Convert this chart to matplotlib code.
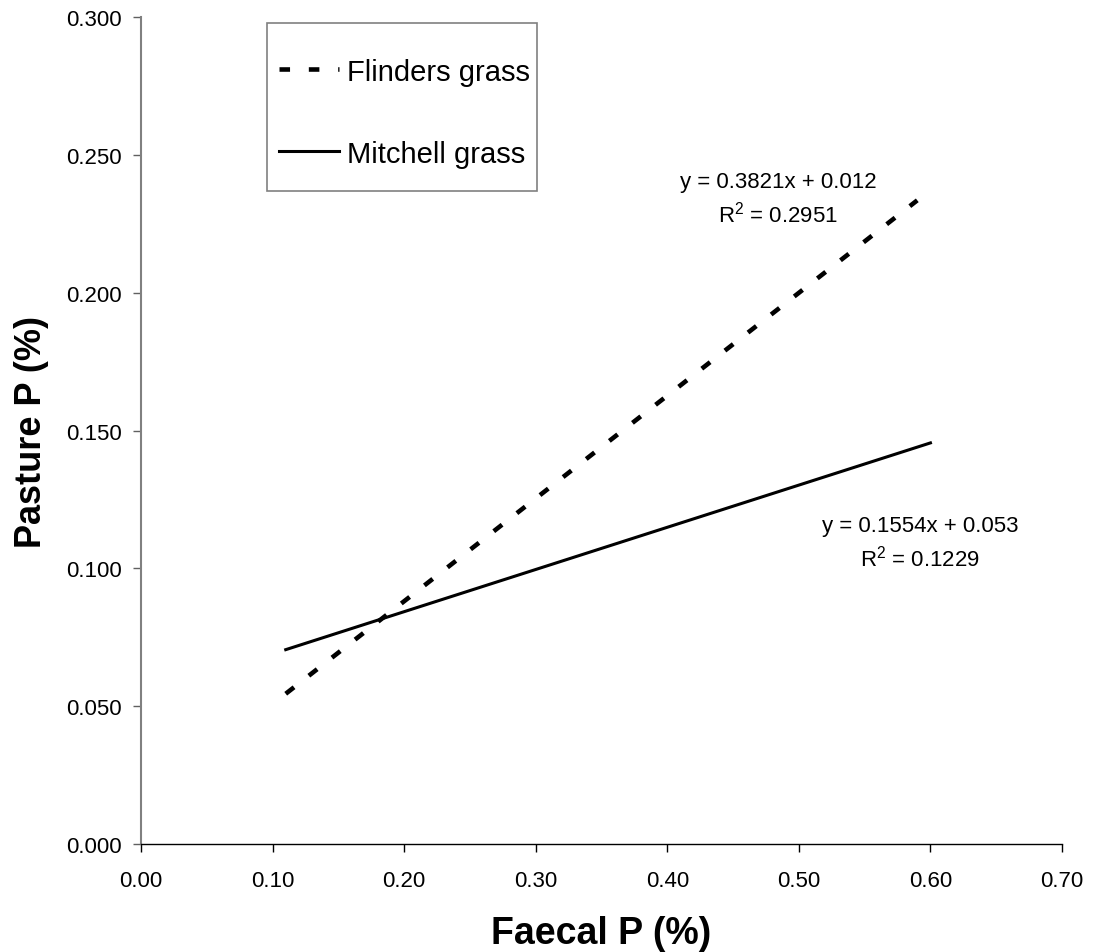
import numpy as np
import matplotlib
matplotlib.use("Agg")
import matplotlib.pyplot as plt
import matplotlib.patches as patches

plt.rcParams['font.family'] = ['Liberation Sans', 'DejaVu Sans']
plt.rcParams['mathtext.fontset'] = 'custom'
plt.rcParams['mathtext.rm'] = 'Liberation Sans'

# trend line end points
flinders_x = [0.11, 0.59]
flinders_y = [0.0545, 0.2335]
mitchell_x = [0.11, 0.60]
mitchell_y = [0.0705, 0.1455]

flinders_eq = 'y = 0.3821x + 0.012\nR$^2$ = 0.2951'
mitchell_eq = 'y = 0.1554x + 0.053\nR$^2$ = 0.1229'

xticks = [0.0, 0.1, 0.2, 0.3, 0.4, 0.5, 0.6, 0.7]
yticks = [0.0, 0.05, 0.1, 0.15, 0.2, 0.25, 0.3]

W, H = 1093, 953
fig = plt.figure(figsize=(W / 100, H / 100), dpi=100)
ax = fig.add_axes([141 / W, 1 - 845 / H, (1062 - 141) / W, (845 - 18) / H])

ax.plot(flinders_x, flinders_y, color='black', lw=3.3, dashes=(2.3, 4.1),
        label='Flinders grass')
ax.plot(mitchell_x, mitchell_y, color='black', lw=2.2, label='Mitchell grass')

ax.set_xlim(0, 0.7)
ax.set_ylim(0, 0.3)
ax.set_xticks(xticks)
ax.set_yticks(yticks)
ax.set_xticklabels(['%.2f' % v for v in xticks])
ax.set_yticklabels(['%.3f' % v for v in yticks])
ax.tick_params(direction='out', length=6, labelsize=16, width=1)
ax.tick_params(axis='x', pad=13, color='black')
ax.tick_params(axis='y', pad=8, color='#606060')

for s in ['top', 'right']:
    ax.spines[s].set_visible(False)
ax.spines['left'].set_color('#808080')
ax.spines['left'].set_linewidth(1.5)
ax.spines['bottom'].set_color('black')
ax.spines['bottom'].set_linewidth(1)

ax.set_xlabel('Faecal P (%)', fontsize=27, fontweight='bold', labelpad=17)
ax.set_ylabel('Pasture P (%)', fontsize=26, fontweight='bold', labelpad=12)

ax.text(0.4842, 0.2442, flinders_eq, fontsize=16, ha='center', va='top',
        linespacing=1.4)
ax.text(0.592, 0.1192, mitchell_eq, fontsize=16, ha='center', va='top',
        linespacing=1.4)

# legend entries without frame, box drawn separately
leg = ax.legend(loc='upper left', bbox_to_anchor=(267 / W, 1 - 47 / H),
                bbox_transform=fig.transFigure, fontsize=21, frameon=False,
                handlelength=2.07, handletextpad=0.28, labelspacing=1.85,
                borderpad=0.4, borderaxespad=0)
box = patches.Rectangle((267 / W, 1 - 192 / H), 270 / W, 168 / H,
                        transform=fig.transFigure, fill=False,
                        edgecolor='#808080', lw=1.2)
fig.add_artist(box)

fig.savefig('out.png', dpi=100)
